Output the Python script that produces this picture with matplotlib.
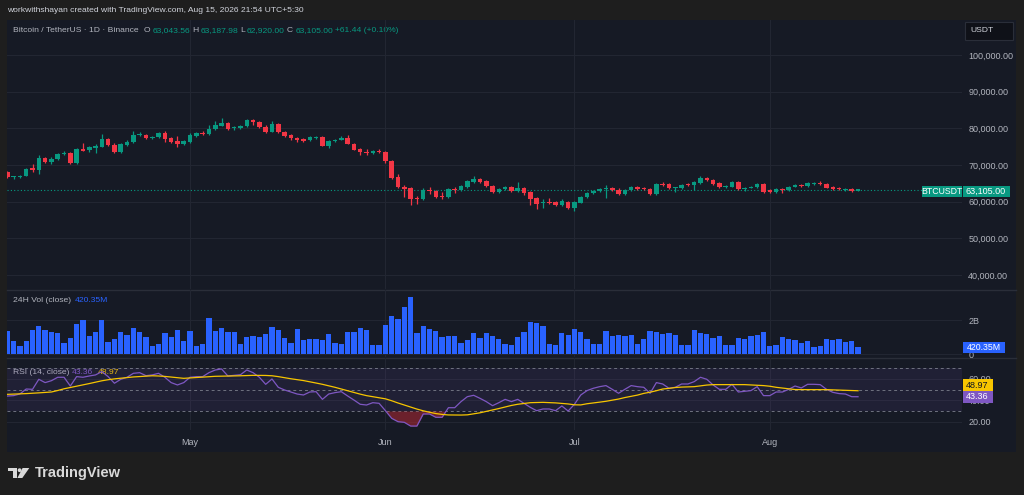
import matplotlib
matplotlib.use('Agg')
import matplotlib.pyplot as plt
from matplotlib.patches import Rectangle, Polygon, Circle
import numpy as np

plt.rcParams['font.family'] = ['Liberation Sans', 'DejaVu Sans']

W, H = 1024, 495

# ---------------- data (daily candles, 2 Apr .. 15 Aug) ----------------
month_labels = ['May', 'Jun', 'Jul', 'Aug']
month_idx = [29, 60, 90, 121]

opens = [68000, 66650, 66800, 67100, 69100, 68600, 71900, 70800, 71600, 73000,
         73300, 70550, 74400, 74000, 74700, 75000, 77000, 75550, 73550, 75550,
         76200, 78300, 78200, 77300, 77550, 78700, 77300, 76450, 75650, 76200,
         77900, 78800, 78450, 79800, 80700, 81450, 80000, 80100, 80550, 82200,
         81700, 80450, 79100, 81100, 79100, 78100, 77450, 77000, 76750, 77300,
         77550, 75300, 76650, 76900, 77300, 75800, 74300, 73600, 73350, 73900,
         73550, 71200, 66650, 64100, 63650, 61100, 60650, 63300, 62850, 61650,
         61250, 63450, 63200, 64100, 65350, 66200, 65550, 64300, 62650, 63400,
         64100, 62900, 63750, 62550, 60900, 59550, 59900, 59900, 59200, 60000,
         58350, 59750, 61200, 62300, 62850, 63450, 63800, 63300, 62100, 63100,
         64000, 63750, 63550, 62000, 64900, 64750, 63600, 63700, 64750, 64550,
         65100, 66450, 66000, 65100, 63900, 64100, 65300, 63450, 63850, 63900,
         64750, 63100, 62550, 63350, 63300, 64100, 64650, 64300, 64750, 65200,
         64800, 63900, 63600, 63200, 63350, 63043.56]
highs = [68300, 67000, 67300, 69100, 70200, 72700, 72300, 72100, 73300, 73900,
         73600, 74700, 76100, 75300, 75600, 78400, 77300, 75900, 76000, 76700,
         79350, 78900, 78500, 77900, 79000, 79350, 77600, 77900, 76700, 78600,
         79000, 79200, 80800, 81900, 82700, 81800, 80700, 81000, 82500, 82600,
         82000, 80800, 82100, 81500, 79400, 78400, 77700, 77300, 77800, 78000,
         77900, 76900, 77200, 77900, 78100, 76100, 74600, 74450, 74200, 74300,
         73800, 71400, 67600, 64550, 63900, 61550, 63800, 63900, 63100, 62550,
         63700, 64100, 64600, 65900, 67000, 66500, 65800, 64500, 63700, 64400,
         64400, 65450, 64000, 62800, 61200, 60700, 60900, 60200, 60600, 60300,
         60100, 61550, 62600, 63300, 63800, 64450, 64100, 63600, 63400, 64200,
         64300, 64000, 63800, 65200, 65300, 65000, 64100, 64900, 65100, 65600,
         66900, 66800, 66300, 65400, 64600, 65600, 65600, 64100, 64200, 65000,
         65000, 63400, 63600, 63700, 64400, 64800, 64900, 65300, 65300, 65500,
         65100, 64200, 63900, 63600, 63600, 63187.98]
lows = [66400, 66300, 66500, 66900, 68200, 67550, 70500, 70200, 71300, 72700,
        70300, 70300, 73700, 73600, 73300, 74800, 75100, 73300, 73300, 75300,
        76000, 77900, 77200, 77100, 77300, 76400, 75900, 74900, 75400, 76000,
        77700, 78200, 78200, 79600, 80500, 79600, 79600, 79800, 80300, 80900,
        80200, 78800, 78900, 78700, 77700, 76900, 76300, 76300, 76500, 77100,
        75100, 74500, 76400, 76700, 75600, 74000, 72700, 72700, 73100, 73200,
        70600, 66300, 63700, 61350, 59000, 59300, 60400, 62000, 61000, 60650,
        61000, 62450, 62900, 63800, 65100, 65100, 64000, 62300, 62300, 63100,
        62600, 62600, 61800, 59000, 57900, 58200, 59400, 58900, 58900, 58100,
        57550, 59500, 61000, 62000, 62600, 61100, 62900, 61800, 61800, 62800,
        63300, 63300, 61700, 61700, 64200, 63400, 62550, 63400, 64200, 63200,
        64900, 65600, 64600, 63600, 63600, 63900, 63200, 62850, 63600, 63600,
        62300, 62300, 62300, 62450, 63000, 63900, 64000, 64100, 64500, 64600,
        63600, 63100, 63100, 63000, 62600, 62920.00]
closes = [66650, 66800, 67100, 68900, 68500, 71900, 70800, 71600, 73000, 73400,
          70550, 74400, 73900, 74900, 75200, 77000, 75450, 73600, 75700, 76350,
          78300, 78350, 77400, 77600, 78700, 77100, 76200, 75650, 76450, 78300,
          78700, 78500, 79900, 80900, 81450, 79900, 80300, 80700, 82200, 81650,
          80450, 79100, 81200, 78900, 78000, 77400, 76800, 76650, 77550, 77550,
          75300, 76650, 76900, 77300, 75800, 74200, 73450, 73350, 73900, 73450,
          71100, 66550, 63950, 63550, 60800, 60650, 63300, 62850, 61350, 61200,
          63400, 63200, 64300, 65550, 66200, 65350, 64200, 62650, 63400, 64100,
          62900, 63800, 62350, 60800, 59450, 59900, 59750, 59200, 60100, 58350,
          59800, 61300, 62350, 63000, 63550, 63800, 63100, 62100, 63100, 63950,
          63550, 63550, 62000, 64900, 64450, 63650, 63800, 64650, 64450, 65350,
          66550, 65900, 64900, 63900, 64350, 65300, 63450, 63800, 63950, 64750,
          62550, 62550, 63350, 63200, 64100, 64550, 64200, 65000, 65000, 64800,
          63800, 63350, 63350, 63350, 62850, 63105.00]
volumes_b = [1.36, 0.76, 0.49, 0.80, 1.42, 1.65, 1.42, 1.30, 1.24, 0.66,
             0.97, 1.75, 1.98, 1.09, 1.30, 1.98, 0.70, 0.87, 1.30, 1.15,
             1.55, 1.32, 1.01, 0.47, 0.62, 1.26, 1.03, 1.42, 0.80, 1.36,
             0.51, 0.60, 2.10, 1.38, 1.55, 1.32, 1.30, 0.62, 1.01, 1.07,
             1.03, 1.19, 1.59, 1.40, 0.97, 0.66, 1.46, 0.86, 0.89, 0.89,
             0.86, 1.17, 0.66, 0.58, 1.32, 1.30, 1.55, 1.40, 0.54, 0.52,
             1.71, 2.25, 2.04, 2.78, 3.36, 1.22, 1.65, 1.48, 1.36, 1.01,
             1.09, 1.05, 0.66, 0.86, 1.22, 0.95, 1.24, 1.07, 0.89, 0.62,
             0.52, 0.99, 1.28, 1.87, 1.81, 1.63, 0.58, 0.52, 1.22, 1.15,
             1.48, 1.32, 0.89, 0.58, 0.58, 1.34, 1.09, 1.15, 1.05, 1.11,
             0.58, 0.89, 1.36, 1.32, 1.19, 1.22, 1.15, 0.54, 0.54, 1.40,
             1.24, 1.19, 0.97, 1.09, 0.56, 0.52, 0.97, 0.89, 1.09, 1.13,
             1.32, 0.51, 0.54, 0.99, 0.91, 0.82, 0.66, 0.76, 0.41, 0.49,
             0.89, 0.82, 0.89, 0.70, 0.80, 0.42035]
rsi = [44.0, 44.4, 46.0, 50.6, 50.3, 59.7, 56.6, 58.4, 61.6, 61.6,
       53.4, 62.2, 61.6, 62.8, 63.8, 66.9, 62.2, 56.0, 59.7, 61.6,
       65.3, 65.9, 63.1, 63.8, 65.3, 61.6, 56.6, 54.4, 56.6, 61.6,
       62.2, 62.2, 65.9, 68.4, 69.4, 62.8, 63.4, 64.0, 68.4, 65.9,
       61.6, 55.0, 60.0, 52.2, 49.7, 47.8, 45.9, 45.0, 47.8, 48.1,
       40.9, 45.9, 47.2, 48.1, 44.1, 40.3, 36.3, 35.6, 37.8, 37.2,
       30.3, 23.1, 20.0, 19.4, 15.9, 15.9, 27.2, 27.2, 24.1, 24.1,
       33.1, 33.1, 38.8, 43.4, 44.7, 41.9, 38.8, 35.0, 37.8, 40.9,
       38.8, 40.9, 37.2, 33.4, 30.3, 31.9, 31.9, 30.3, 34.7, 30.0,
       36.3, 45.0, 49.1, 51.3, 52.8, 53.8, 50.3, 46.6, 50.3, 53.8,
       52.8, 52.2, 46.6, 56.6, 55.3, 51.3, 52.2, 55.3, 55.3, 57.5,
       61.6, 59.7, 54.4, 50.3, 50.3, 55.0, 47.8, 48.4, 49.1, 52.8,
       44.4, 44.4, 47.8, 47.8, 50.3, 53.4, 51.6, 55.0, 55.0, 54.7,
       50.3, 47.5, 46.3, 45.9, 43.4, 43.36]
rsi_ma = [45.6, 45.8, 46.0, 46.3, 46.6, 47.0, 47.4, 47.8, 49.2, 50.8,
          52.0, 53.2, 54.4, 55.7, 57.0, 58.3, 59.3, 60.1, 60.7, 61.3,
          61.9, 62.3, 62.7, 63.0, 62.8, 62.4, 61.8, 61.2, 60.6, 61.0,
          61.4, 61.8, 62.2, 62.5, 62.6, 62.7, 62.8, 63.0, 63.2, 63.4,
          63.4, 63.3, 63.0, 62.2, 61.2, 60.2, 59.4, 58.5, 57.4, 56.2,
          55.0, 53.6, 52.2, 50.6, 48.9, 47.3, 45.8, 44.4, 43.4, 42.4,
          41.4, 39.6, 37.5, 35.6, 33.7, 31.8, 30.2, 28.8, 27.6, 26.8,
          26.3, 26.2, 26.2, 26.4, 27.4, 28.3, 29.6, 31.0, 32.3, 33.8,
          35.2, 36.3, 37.1, 37.8, 38.0, 38.1, 37.9, 37.6, 37.1, 36.6,
          35.8, 35.7, 36.8, 37.5, 38.3, 39.1, 40.2, 41.2, 42.6, 43.8,
          44.9, 46.5, 47.6, 49.0, 50.6, 51.2, 52.0, 52.4, 52.6, 52.8,
          53.5, 54.3, 54.7, 54.7, 54.7, 54.7, 54.7, 54.7, 54.4, 54.1,
          53.8, 53.2, 52.2, 51.5, 50.8, 50.1, 50.0, 50.0, 50.0, 50.0,
          50.0, 49.8, 49.5, 49.3, 49.1, 48.97]

price_ticks = [40000, 50000, 60000, 70000, 80000, 90000, 100000]
vol_ticks = [0, 2e9]
vol_tick_labels = ['0', '2B']
rsi_ticks = [20, 40, 60]

# ---------------- styling ----------------
OUTER = '#1e1e1e'
PANEL = '#161a25'
GRID = '#222632'
SEP = '#2a2e39'
TXT = '#b2b5be'
TEAL = '#089981'
RED = '#f23645'
BLUE = '#2962ff'
PURPLE = '#7e57c2'
YELLOW = '#f7c500'

fig = plt.figure(figsize=(W / 100, H / 100), dpi=100, facecolor=OUTER)
bg = fig.add_axes([0, 0, 1, 1], zorder=0)
bg.set_xlim(0, W)
bg.set_ylim(H, 0)
bg.axis('off')
bg.add_patch(Rectangle((7, 20), 1009, 432, facecolor=PANEL, edgecolor='none'))
for yy in (289.5, 357.5):
    bg.plot([7, 1016], [yy, yy], color=SEP, lw=1.0)

# overlay for the right-scale value boxes (drawn above tick labels)
top = fig.add_axes([0, 0, 1, 1], zorder=5)
top.set_xlim(0, W)
top.set_ylim(H, 0)
top.axis('off')
top.patch.set_alpha(0)


def rect(x0, y0, x1, y1):
    return [x0 / W, 1 - y1 / H, (x1 - x0) / W, (y1 - y0) / H]


ax_p = fig.add_axes(rect(7, 20, 962, 289), zorder=2)
ax_v = fig.add_axes(rect(7, 290, 962, 357), zorder=2)
ax_r = fig.add_axes(rect(7, 358, 962, 430), zorder=2)

x = np.arange(len(closes))
o = np.array(opens, float)
c = np.array(closes, float)
hi = np.array(highs, float)
lo = np.array(lows, float)
cols = [TEAL if cc >= oo else RED for oo, cc in zip(o, c)]

for ax in (ax_p, ax_v, ax_r):
    ax.set_facecolor('none')
    for s in ax.spines.values():
        s.set_visible(False)
    ax.set_xlim(-0.05, 151.5)
    ax.set_xticks(month_idx)
    ax.grid(axis='x', color=GRID, lw=0.8)
    ax.yaxis.tick_right()
    ax.tick_params(axis='y', length=0, pad=4.5, labelsize=6.5, labelcolor=TXT)
    ax.tick_params(axis='x', length=0)
    ax.set_axisbelow(True)

# price pane
ax_p.set_ylim(36182, 109545)
ax_p.set_yticks(price_ticks)
ax_p.set_yticklabels([f'{v:,.2f}' for v in price_ticks])
ax_p.grid(axis='y', color=GRID, lw=0.8)
ax_p.set_xticklabels([])
ax_p.vlines(x, lo, hi, colors=cols, lw=0.9, zorder=3)
body = np.maximum(np.abs(c - o), 280)
ax_p.bar(x, body, bottom=np.minimum(o, c), width=0.72, color=cols, lw=0, zorder=4)
ax_p.axhline(closes[-1], color=TEAL, lw=0.8, ls=(0, (1, 2)), zorder=2)

# volume pane
ax_v.set_ylim(-0.157e9, 3.75e9)
ax_v.set_yticks(vol_ticks)
ax_v.set_yticklabels(vol_tick_labels)
ax_v.grid(axis='y', color=GRID, lw=0.8)
ax_v.set_xticklabels([])
ax_v.bar(x, np.array(volumes_b) * 1e9, width=0.84, color=BLUE, lw=0, zorder=3)

# RSI pane
ax_r.set_ylim(12.2, 79.65)
ax_r.set_yticks(rsi_ticks)
ax_r.set_yticklabels([f'{v:.2f}' for v in rsi_ticks])
ax_r.grid(axis='y', color=GRID, lw=0.8)
ax_r.axhspan(30, 70, color=PURPLE, alpha=0.10, lw=0, zorder=1)
for lvl in (70, 50, 30):
    ax_r.axhline(lvl, color='#6f7280', lw=0.7, ls=(0, (3, 3)), zorder=2)
rsi_a = np.array(rsi)
ax_r.fill_between(x, rsi_a, 30, where=rsi_a < 30, interpolate=True,
                  color='#b22833', alpha=0.55, lw=0, zorder=2)
ax_r.plot(x, rsi_a, color=PURPLE, lw=0.9, zorder=4)
ax_r.plot(x, rsi_ma, color=YELLOW, lw=0.9, zorder=4)
ax_r.set_xticklabels(month_labels)
ax_r.tick_params(axis='x', pad=6, labelsize=6.5, labelcolor=TXT)

# ---------------- texts ----------------
fig.canvas.draw()
rend = fig.canvas.get_renderer()


def seq(segments, y, size):
    prev = 0
    for s, col, rx in segments:
        xx = max(rx, prev + 2)
        t = bg.text(xx, y, s, color=col, fontsize=size, va='center', ha='left')
        bb = t.get_window_extent(renderer=rend)
        prev = xx + bb.width


bg.text(7, 11, 'workwithshayan created with TradingView.com, Aug 15, 2026 21:54 UTC+5:30',
        color='#d1d4dc', fontsize=6.1, va='center', ha='left')

seq([('Bitcoin / TetherUS · 1D · Binance', TXT, 13), ('O', TXT, 144),
     ('63,043.56', TEAL, 150), ('H', TXT, 192), ('63,187.98', TEAL, 197),
     ('L', TXT, 240), ('62,920.00', TEAL, 244), ('C', TXT, 287),
     ('63,105.00', TEAL, 291), ('+61.44 (+0.10%)', TEAL, 334)], 30.7, 6.1)
seq([('24H Vol (close)', TXT, 13), ('420.35M', BLUE, 75)], 300.5, 6.1)
seq([('RSI (14, close)', TXT, 13), ('43.36', PURPLE, 72), ('48.97', YELLOW, 98)], 372.3, 6.1)

# USDT box
top.add_patch(Rectangle((965, 22), 48, 18, facecolor='#0f1118', edgecolor=SEP, lw=0.8))
top.text(970, 31, 'USDT', color='#d1d4dc', fontsize=6.1, va='center', ha='left')

# price label
top.add_patch(Rectangle((922, 185.5), 40, 11.5, facecolor=TEAL, edgecolor='none'))
top.add_patch(Rectangle((963, 185.5), 46.5, 11.5, facecolor=TEAL, edgecolor='none'))
top.text(942, 191.3, 'BTCUSDT', color='white', fontsize=6.3, va='center', ha='center')
top.text(986, 191.3, '63,105.00', color='white', fontsize=6.5, va='center', ha='center')

# volume label
top.add_patch(Rectangle((963, 341.5), 42, 11, facecolor=BLUE, edgecolor='none'))
top.text(984, 347, '420.35M', color='white', fontsize=6.3, va='center', ha='center')

# RSI labels
top.add_patch(Rectangle((962.5, 379.3), 30, 11.5, facecolor=YELLOW, edgecolor='none'))
top.text(977.5, 385, '48.97', color='#131722', fontsize=6.5, va='center', ha='center')
top.add_patch(Rectangle((962.5, 391), 30, 11.5, facecolor=PURPLE, edgecolor='none'))
top.text(977.5, 396.8, '43.36', color='white', fontsize=6.5, va='center', ha='center')

# TradingView logo
LOGO = '#d9d9d9'
bg.add_patch(Rectangle((8.3, 468), 8.2, 3.4, facecolor=LOGO, edgecolor='none'))
bg.add_patch(Rectangle((12.6, 468), 3.9, 10, facecolor=LOGO, edgecolor='none'))
bg.add_patch(Circle((19.6, 470.2), 1.9, facecolor=LOGO, edgecolor='none'))
bg.add_patch(Polygon([(22.6, 468), (29.3, 468), (22.3, 478), (17.4, 478)],
                     closed=True, facecolor=LOGO, edgecolor='none'))
bg.text(34.5, 473.5, 'TradingView', color=LOGO, fontsize=10.5, fontweight='bold',
        va='center', ha='left')

fig.savefig('out.png', dpi=100, facecolor=OUTER)
